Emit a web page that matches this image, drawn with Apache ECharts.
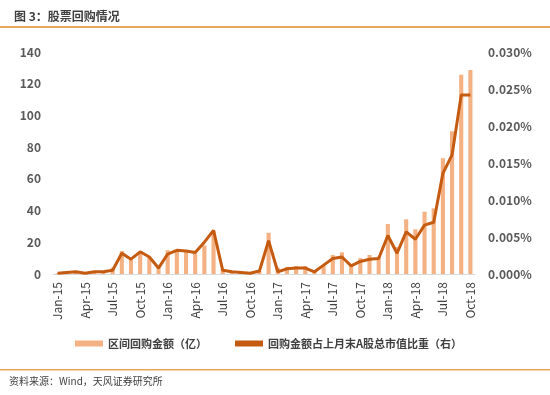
<!DOCTYPE html>
<html><head><meta charset="utf-8">
<script src="https://cdn.jsdelivr.net/npm/echarts@6/dist/echarts.min.js"></script>
<style>html,body{margin:0;padding:0;background:#fff}#c{width:550px;height:395px}</style>
</head><body><div id="c"></div>
<script>
var categories = ['Jan-15','Feb-15','Mar-15','Apr-15','May-15','Jun-15','Jul-15','Aug-15','Sep-15','Oct-15','Nov-15','Dec-15',
 'Jan-16','Feb-16','Mar-16','Apr-16','May-16','Jun-16','Jul-16','Aug-16','Sep-16','Oct-16','Nov-16','Dec-16',
 'Jan-17','Feb-17','Mar-17','Apr-17','May-17','Jun-17','Jul-17','Aug-17','Sep-17','Oct-17','Nov-17','Dec-17',
 'Jan-18','Feb-18','Mar-18','Apr-18','May-18','Jun-18','Jul-18','Aug-18','Sep-18','Oct-18'];
var buybackAmount = [0.5,1,1.5,0.5,1.5,2,4,14.5,9,13.5,10,4,15,15,14,13,18,27,3,1.5,1,1,2,26,
 4,4.5,5,5,2,5,12,13.7,6,10,12,11,31.5,17,34.5,28.2,39.3,41.4,73,90,125.6,128.7];
var buybackRatio = [0.0001,0.0002,0.0003,0.0001,0.0003,0.0003,0.0005,0.0028,0.0020,0.0030,0.0023,0.0008,
 0.0027,0.0032,0.0031,0.0029,0.0043,0.0059,0.0005,0.0003,0.0002,0.0001,0.0004,0.0045,
 0.0003,0.0007,0.0008,0.0008,0.0003,0.0012,0.0021,0.0023,0.0011,0.0017,0.0020,0.0021,
 0.0052,0.0028,0.0057,0.0047,0.0066,0.0070,0.0136,0.0161,0.0242,0.0242];
var leftTicks = {min:0,max:140,interval:20};
var rightTicks = {min:0,max:0.03,interval:0.005};
var seriesNames = ['区间回购金额（亿）','回购金额占上月末A股总市值比重（右）'];

var chart = echarts.init(document.getElementById('c'));
var fontFam = '"Noto Sans CJK SC","Noto Sans",sans-serif';
chart.setOption({
  animation:false,
  textStyle:{fontFamily:fontFam},
  title:{text:'图 3：股票回购情况',left:9,top:5,textStyle:{fontSize:12,fontWeight:'bold',color:'#404040',fontFamily:fontFam}},
  graphic:[
    {type:'rect',shape:{x:0,y:26,width:550,height:2},style:{fill:'#E9A65A'}},
    {type:'rect',shape:{x:0,y:369,width:550,height:1.5},style:{fill:'#E9A65A'}},
    {type:'text',left:9,top:376,style:{text:'资料来源：Wind，天风证券研究所',fontSize:10,fill:'#404040',fontFamily:fontFam}}
  ],
  legend:{left:70,top:333,itemGap:28,itemWidth:28,itemHeight:6,
    textStyle:{fontSize:11,color:'#404040',fontWeight:'bold'},
    data:[{name:seriesNames[0],icon:'rect'},{name:seriesNames[1],icon:'rect'}]},
  grid:{left:53,right:75,top:52,bottom:121},
  xAxis:{type:'category',data:categories,boundaryGap:true,
    axisLine:{lineStyle:{color:'#D9D9D9'}},axisTick:{show:false},
    axisLabel:{interval:2,rotate:90,fontSize:12,color:'#404040',margin:8}},
  yAxis:[
    {type:'value',min:leftTicks.min,max:leftTicks.max,interval:leftTicks.interval,
     splitLine:{show:false},axisLine:{show:false},axisTick:{show:false},
     axisLabel:{fontSize:12,color:'#595959',fontWeight:'bold',margin:12}},
    {type:'value',min:rightTicks.min,max:rightTicks.max,interval:rightTicks.interval,
     splitLine:{show:false},axisLine:{show:false},axisTick:{show:false},
     axisLabel:{fontSize:12,color:'#595959',fontWeight:'bold',margin:13,
       formatter:function(v){return v.toFixed(3)+'%';}}}
  ],
  series:[
    {name:seriesNames[0],type:'bar',data:buybackAmount,barWidth:'45%',
     itemStyle:{color:'#F4B183'}},
    {name:seriesNames[1],type:'line',yAxisIndex:1,data:buybackRatio,showSymbol:false,symbol:'none',
     lineStyle:{color:'#C55A11',width:3},itemStyle:{color:'#C55A11'}}
  ]
});
</script></body></html>
